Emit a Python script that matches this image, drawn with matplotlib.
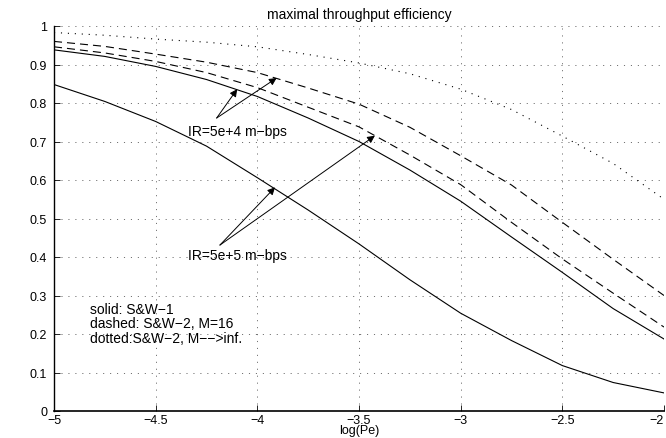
import matplotlib
matplotlib.use('Agg')
import matplotlib.pyplot as plt

plt.rcParams['font.family'] = ['Liberation Sans', 'DejaVu Sans']
plt.rcParams['lines.scale_dashes'] = False

# data
log_pe = [-5, -4.75, -4.5, -4.25, -4, -3.75, -3.5, -3.25, -3, -2.75, -2.5, -2.25, -2]
sw1_low = [0.848, 0.804, 0.752, 0.688, 0.606, 0.522, 0.434, 0.341, 0.254, 0.183, 0.118, 0.074, 0.047]
sw1_high = [0.938, 0.921, 0.895, 0.861, 0.817, 0.761, 0.700, 0.626, 0.545, 0.452, 0.360, 0.266, 0.187]
sw2_m16_a = [0.946, 0.930, 0.908, 0.879, 0.840, 0.789, 0.738, 0.665, 0.588, 0.490, 0.395, 0.306, 0.218]
sw2_m16_b = [0.960, 0.947, 0.927, 0.906, 0.879, 0.839, 0.797, 0.737, 0.663, 0.587, 0.490, 0.394, 0.300]
sw2_inf = [0.983, 0.976, 0.966, 0.958, 0.946, 0.926, 0.904, 0.876, 0.836, 0.783, 0.714, 0.643, 0.550]

xticks = [-5, -4.5, -4, -3.5, -3, -2.5, -2]
xticklabels = ['\u22125', '\u22124.5', '\u22124', '\u22123.5', '\u22123', '\u22122.5', '\u22122']
yticks = [0, 0.1, 0.2, 0.3, 0.4, 0.5, 0.6, 0.7, 0.8, 0.9, 1]
yticklabels = ['0', '0.1', '0.2', '0.3', '0.4', '0.5', '0.6', '0.7', '0.8', '0.9', '1']

fs = 10
tfs = 9

fig = plt.figure(figsize=(6.66, 4.39), dpi=100)
ax = fig.add_axes([54 / 666, 27 / 439, 610 / 666, 385 / 439])

lw = 0.8
ax.plot(log_pe, sw1_low, color='k', lw=lw)
ax.plot(log_pe, sw1_high, color='k', lw=lw)
ax.plot(log_pe, sw2_m16_a, color='k', lw=lw, dashes=(5.8, 3.6))
ax.plot(log_pe, sw2_m16_b, color='k', lw=lw, dashes=(5.8, 3.6))
ax.plot(log_pe, sw2_inf, color='k', lw=lw, dashes=(0.8, 4.2))

ax.set_xlim(-5, -2)
ax.set_ylim(0, 1)
ax.set_xticks(xticks)
ax.set_xticklabels(xticklabels)
ax.set_yticks(yticks)
ax.set_yticklabels(yticklabels)
ax.tick_params(direction='in', length=4, width=0.6, labelsize=tfs)
ax.tick_params(axis='x', pad=2)
ax.tick_params(axis='y', pad=5)
# last x label sits at the figure edge, keep it inside
ax.get_xticklabels()[-1].set_horizontalalignment('right')

ax.grid(True, color='0.35', lw=0.6, dashes=(0.8, 4.2))
ax.spines['top'].set_visible(False)
ax.spines['right'].set_visible(False)
ax.spines['left'].set_linewidth(1.0)
ax.spines['bottom'].set_linewidth(1.2)

ax.set_title('maximal throughput efficiency', fontsize=fs, pad=6)
ax.set_xlabel('log(Pe)', fontsize=tfs, labelpad=-1)

arrow = dict(arrowstyle='-|>', color='k', lw=0.7, mutation_scale=11,
             shrinkA=0, shrinkB=0)

# IR=5e+4 annotation
ax.text(-4.34, 0.727, 'IR=5e+4 m\u2212bps', fontsize=fs, va='center', ha='left')
ax.annotate('', xy=(-4.099, 0.836), xytext=(-4.2, 0.761), arrowprops=arrow)
ax.annotate('', xy=(-3.905, 0.865), xytext=(-4.2, 0.761), arrowprops=arrow)

# IR=5e+5 annotation
ax.text(-4.34, 0.405, 'IR=5e+5 m\u2212bps', fontsize=fs, va='center', ha='left')
ax.annotate('', xy=(-3.913, 0.581), xytext=(-4.184, 0.431), arrowprops=arrow)
ax.annotate('', xy=(-3.422, 0.715), xytext=(-4.184, 0.431), arrowprops=arrow)

# legend text
ax.text(-4.823, 0.228,
        'solid: S&W\u22121\ndashed: S&W\u22122, M=16\ndotted:S&W\u22122, M\u2212\u2212>inf.',
        fontsize=fs, va='center', ha='left', linespacing=1.05)

fig.savefig('out.png', dpi=100)
